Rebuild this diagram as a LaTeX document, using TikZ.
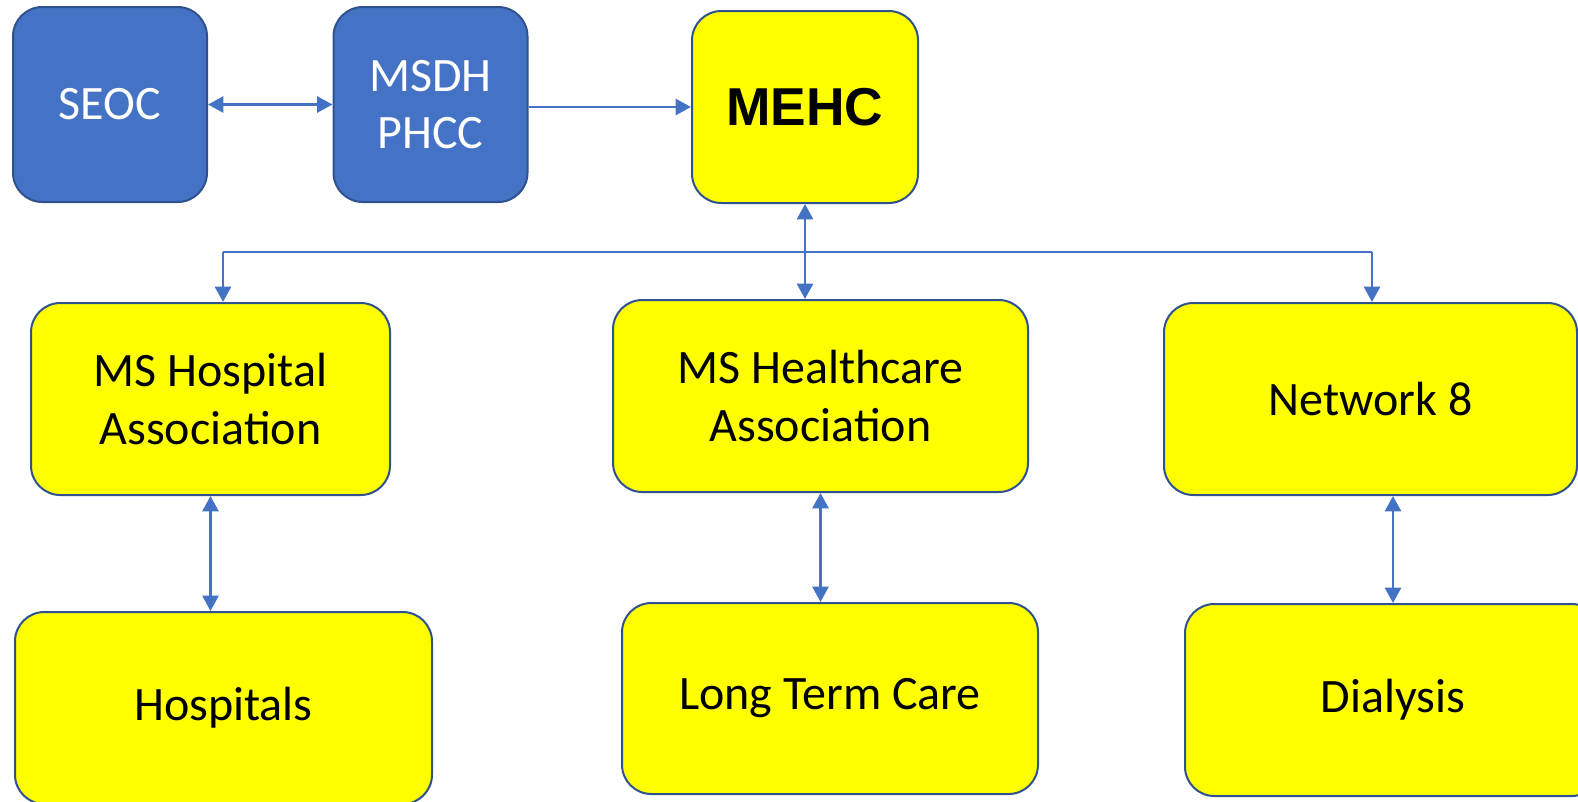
\documentclass[tikz,border=0pt]{standalone}
\usepackage{fontspec}
\setmainfont{Carlito}
\newfontfamily\boldsans{Liberation Sans}
\usetikzlibrary{arrows.meta}

\definecolor{boxblue}{RGB}{68,114,196}
\definecolor{edgeblue}{RGB}{47,82,143}
\definecolor{boxyellow}{RGB}{255,255,0}

\tikzset{every picture/.style={line width=0.75pt}}
\tikzset{
  orgbox/.style={draw=edgeblue, line width=1.5pt, rounded corners=22pt, align=center, inner sep=0pt,
    font=\fontsize{36}{43}\selectfont},
  bluebox/.style={orgbox, fill=boxblue, text=white},
  yellowbox/.style={orgbox, fill=boxyellow, text=black},
  link/.style={draw=boxblue, line width=2pt, -{Triangle[length=11.5pt,width=12pt]}},
  twoway/.style={link, {Triangle[length=11.5pt,width=12pt]}-{Triangle[length=11.5pt,width=12pt]}},
  busline/.style={draw=boxblue, line width=1.2pt},
}

\begin{document}
\begin{tikzpicture}[x=0.75pt,y=0.75pt,yscale=-1,xscale=1]
\useasboundingbox (0,0) rectangle (1578,801);

% top row
\node[bluebox, minimum width=145.5pt, minimum height=146.25pt] (seoc) at (110,104.5) {SEOC};
\node[bluebox, minimum width=145.5pt, minimum height=146.25pt] (msdh) at (430.5,104.5) {MSDH\\PHCC};
\node[yellowbox, minimum width=169.5pt, minimum height=144pt, font=\boldsans\bfseries\fontsize{40}{43}\selectfont] (mehc) at (805,107) {MEHC};

% associations
\node[yellowbox, minimum width=269.25pt, minimum height=144pt] (mshosp) at (210.5,399) {MS Hospital\\Association};
\node[yellowbox, minimum width=311.25pt, minimum height=144pt] (mshealth) at (820.5,396) {MS Healthcare\\Association};
\node[yellowbox, minimum width=309.75pt, minimum height=144pt] (net8) at (1370.5,399) {Network 8};

% members
\node[yellowbox, minimum width=312.75pt, minimum height=144pt] (hosp) at (223.5,708) {Hospitals};
\node[yellowbox, minimum width=312pt, minimum height=143.25pt] (ltc) at (830,698.5) {Long Term Care};
\node[yellowbox, minimum width=312pt, minimum height=144pt] (dial) at (1393,700) {Dialysis};

% connectors
\draw[twoway] (seoc) -- (msdh);
\draw[link] (mehc.west -| msdh.east) -- (mehc.west);
\draw[twoway] (mehc.south) -- (mehc.south |- mshealth.north);

\coordinate (busL) at (223,252);
\coordinate (busR) at (1372,252);
\draw[busline] (busL) -- (busR);
\draw[link] (busL) -- (busL |- mshosp.north);
\draw[link] (busR) -- (busR |- net8.north);

\draw[twoway] (mshosp.south) -- (mshosp.south |- hosp.north);
\draw[twoway] (mshealth.south) -- (mshealth.south |- ltc.north);
\draw[twoway] (dial.north |- net8.south) -- (dial.north);

\end{tikzpicture}
\end{document}
